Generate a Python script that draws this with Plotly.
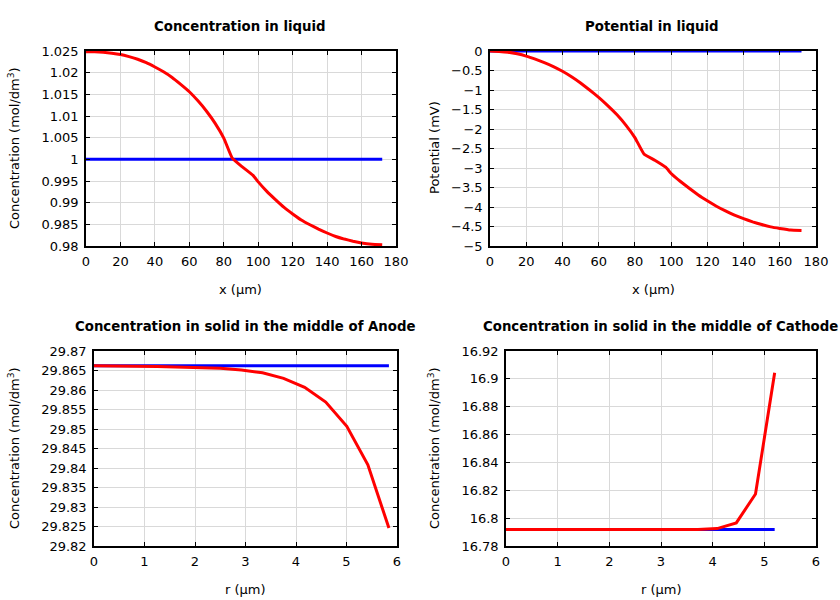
import plotly.graph_objects as go

# ---- data ----
liq_x_red = [0, 5, 10, 15, 20, 25, 30, 35, 40, 45, 50, 55, 60, 65, 70, 75, 80, 85, 90, 97, 100, 105, 110, 115, 120, 125, 130, 135, 140, 145, 150, 155, 160, 166, 172]
liq_c_red = [1.0248, 1.0248, 1.0247, 1.0245, 1.0242, 1.0237, 1.0231, 1.0223, 1.0213, 1.0202, 1.0189, 1.0173, 1.0156, 1.0135, 1.0111, 1.0083, 1.0049, 1.0002, 0.9985, 0.9963, 0.9948, 0.9926, 0.9907, 0.9889, 0.9874, 0.9860, 0.9849, 0.9839, 0.9830, 0.9822, 0.9816, 0.9811, 0.9807, 0.9804, 0.9803]
liq_x_blue = [0, 85, 97, 172]
liq_c_blue = [1.0, 1.0, 1.0, 1.0]

pot_x_red = [0, 5, 10, 15, 20, 25, 30, 35, 40, 45, 50, 55, 60, 65, 70, 75, 80, 85, 91, 97, 100, 105, 110, 115, 120, 125, 130, 135, 140, 145, 150, 155, 160, 166, 172]
pot_v_red = [0.0, -0.01, -0.03, -0.07, -0.13, -0.21, -0.30, -0.40, -0.52, -0.66, -0.82, -1.00, -1.19, -1.40, -1.63, -1.90, -2.22, -2.64, -2.80, -2.98, -3.14, -3.34, -3.52, -3.69, -3.84, -3.98, -4.10, -4.21, -4.30, -4.38, -4.45, -4.51, -4.55, -4.59, -4.60]
pot_x_blue = [0, 172]
pot_v_blue = [0.0, 0.0]

an_r = [0.0, 0.417, 0.834, 1.251, 1.669, 2.086, 2.503, 2.92, 3.337, 3.754, 4.171, 4.589, 5.006, 5.423, 5.84]
an_c_red = [29.8662, 29.8662, 29.8661, 29.8660, 29.8659, 29.8658, 29.8656, 29.8651, 29.8644, 29.8630, 29.8607, 29.8569, 29.8507, 29.8408, 29.8246]
an_r_blue = [0.0, 5.84]
an_c_blue = [29.8662, 29.8662]

ca_r = [0.0, 0.371, 0.743, 1.114, 1.486, 1.857, 2.229, 2.6, 2.971, 3.343, 3.714, 4.086, 4.457, 4.829, 5.2]
ca_c_red = [16.7918, 16.7918, 16.7918, 16.7918, 16.7918, 16.7918, 16.7918, 16.7918, 16.7918, 16.7918, 16.7919, 16.7925, 16.7966, 16.8173, 16.9044]
ca_r_blue = [0.0, 5.2]
ca_c_blue = [16.7918, 16.7918]

titles = ["Concentration in liquid", "Potential in liquid",
          "Concentration in solid in the middle of Anode",
          "Concentration in solid in the middle of Cathode"]
x_titles = ["x (µm)", "x (µm)", "r (µm)", "r (µm)"]
y_titles = ["Concentration (mol/dm<sup>3</sup>)", "Potential (mV)",
            "Concentration (mol/dm<sup>3</sup>)", "Concentration (mol/dm<sup>3</sup>)"]

RED = "#ff0000"
BLUE = "#0000ff"
FONT = "DejaVu Sans"

fig = go.Figure()

def add(x, y, color, ax, smooth):
    line = dict(color=color, width=3)
    if smooth:
        line.update(shape="spline", smoothing=0.3)
    fig.add_trace(go.Scatter(x=x, y=y, mode="lines", line=line,
                             xaxis="x" + ax, yaxis="y" + ax, showlegend=False, hoverinfo="skip"))

add(liq_x_blue, liq_c_blue, BLUE, "", False)
add(liq_x_red, liq_c_red, RED, "", True)
add(pot_x_blue, pot_v_blue, BLUE, "2", False)
add(pot_x_red, pot_v_red, RED, "2", True)
add(an_r_blue, an_c_blue, BLUE, "3", False)
add(an_r, an_c_red, RED, "3", False)
add(ca_r_blue, ca_c_blue, BLUE, "4", False)
add(ca_r, ca_c_red, RED, "4", False)

def axis_common():
    return dict(showline=True, linecolor="black", linewidth=1.5, mirror="ticks",
                ticks="inside", ticklen=4, tickcolor="black", tickwidth=1,
                showgrid=True, gridcolor="#d9d9d9", gridwidth=1, zeroline=False,
                automargin=False, ticklabelstandoff=3,
                tickfont=dict(family=FONT, size=13, color="black"))

W, H = 840, 600
def dx(a, b):
    return [a / W, b / W]
def dy(top, bot):
    return [1 - bot / H, 1 - top / H]
def px(x):
    return x / W
def py(y):
    return 1 - y / H

lay = dict(
    width=W, height=H, margin=dict(l=0, r=0, t=0, b=0, pad=0),
    paper_bgcolor="white", plot_bgcolor="white",
    font=dict(family=FONT, size=13, color="black"),
)

cfg = [
    ("", (86, 396), (51, 246), [0, 180], 20, [0.98, 1.025], 0.005),
    ("2", (490, 816), (51, 246), [0, 180], 20, [-5, 0], 0.5),
    ("3", (94, 397), (351, 546), [0, 6], 1, [29.82, 29.87], 0.005),
    ("4", (506, 816), (351, 546), [0, 6], 1, [16.78, 16.92], 0.02),
]
for ax, (xa0, xa1), (ya0, ya1), xr, xdt, yr, ydt in cfg:
    xa = axis_common()
    xa.update(domain=dx(xa0, xa1), range=xr, dtick=xdt, tick0=0, anchor="y" + ax)
    ya = axis_common()
    ya.update(domain=dy(ya0, ya1), range=yr, dtick=ydt, tick0=yr[0], anchor="x" + ax)
    lay["xaxis" + ax] = xa
    lay["yaxis" + ax] = ya

fig.update_layout(**lay)

title_pos = [(240, 26), (652, 26), (245, 326), (660, 326)]
for t, (tx, ty) in zip(titles, title_pos):
    fig.add_annotation(text="<b>" + t + "</b>", x=px(tx), y=py(ty), xref="paper", yref="paper",
                       showarrow=False, xanchor="center", yanchor="middle",
                       font=dict(family=FONT, size=13.3, color="black"))

xt_pos = [(241, 289), (653, 289), (245, 589), (661, 589)]
for t, (tx, ty) in zip(x_titles, xt_pos):
    fig.add_annotation(text=t, x=px(tx), y=py(ty), xref="paper", yref="paper",
                       showarrow=False, xanchor="center", yanchor="middle",
                       font=dict(family=FONT, size=13, color="black"))

yt_pos = [(14, 148), (434, 148), (14, 448), (434, 448)]
for t, (tx, ty) in zip(y_titles, yt_pos):
    fig.add_annotation(text=t, x=px(tx), y=py(ty), xref="paper", yref="paper",
                       showarrow=False, xanchor="center", yanchor="middle", textangle=-90,
                       font=dict(family=FONT, size=13, color="black"))

fig.write_html("out.html", config={"displayModeBar": False},
               post_script="document.body.style.margin='0';document.body.style.overflow='hidden';")
